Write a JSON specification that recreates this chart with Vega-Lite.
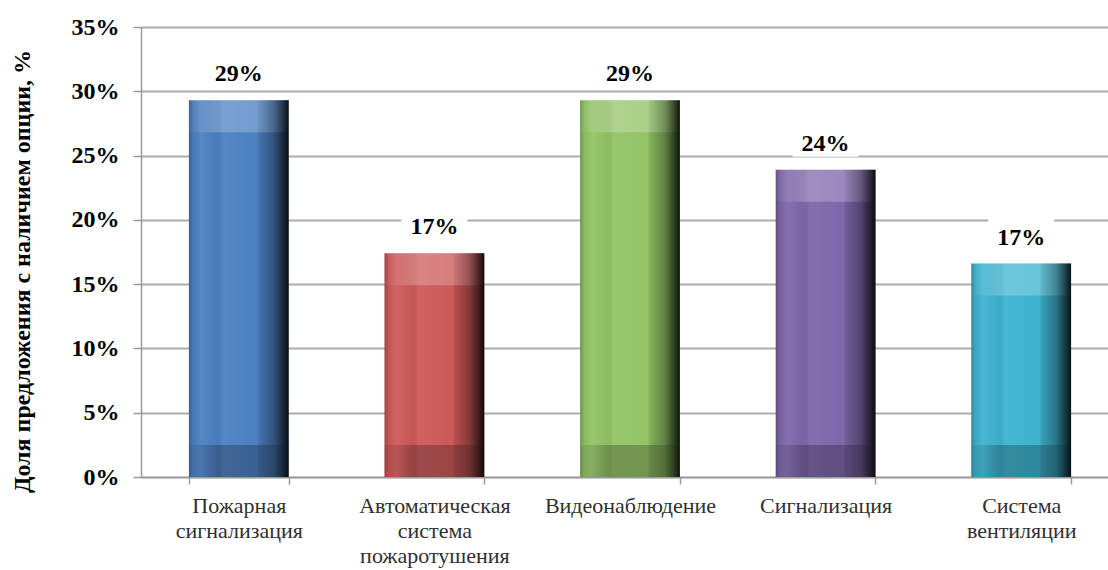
{
  "$schema": "https://vega.github.io/schema/vega-lite/v6.json",
  "autosize": {"type": "none"},
  "width": 978,
  "height": 450,
  "padding": {"left": 141, "top": 27, "right": 0, "bottom": 93},
  "background": "white",
  "config": {
    "view": {"stroke": null},
    "font": "Liberation Serif"
  },
  "data": {
    "values": [
      {"category": "Пожарная сигнализация", "share": 0.293},
      {"category": "Автоматическая система пожаротушения", "share": 0.174},
      {"category": "Видеонаблюдение", "share": 0.293},
      {"category": "Сигнализация", "share": 0.239},
      {"category": "Система вентиляции", "share": 0.166}
    ]
  },
  "encoding": {
    "x": {
      "field": "category",
      "type": "nominal",
      "sort": null,
      "scale": {"paddingInner": 0.49, "paddingOuter": 0.245},
      "axis": {
        "title": null,
        "labelAngle": 0,
        "labelExpr": "split(datum.label, ' ')",
        "labelFont": "Liberation Serif",
        "labelFontSize": 22,
        "labelColor": "#303030",
        "labelLineHeight": 25,
        "labelBaseline": "top",
        "labelPadding": 11,
        "tickBand": "extent",
        "tickSize": 7,
        "tickColor": "#9a9a9a",
        "tickWidth": 1.5,
        "domainColor": "#9a9a9a",
        "domainWidth": 1.5,
        "grid": false
      }
    }
  },
  "layer": [
    {
      "mark": {"type": "bar"},
      "encoding": {
        "y": {
          "field": "share",
          "type": "quantitative",
          "scale": {"domain": [0, 0.35], "nice": false},
          "axis": {
            "title": "Доля предложения с наличием опции, %",
            "titleFont": "Liberation Serif",
            "titleFontSize": 24,
            "titleFontWeight": "bold",
            "titleColor": "#000000",
            "titleX": -119,
            "titleY": 244,
            "titleAngle": -90,
            "titleAlign": "center",
            "titleBaseline": "middle",
            "values": [0, 0.05, 0.1, 0.15, 0.2, 0.25, 0.3, 0.35],
            "format": ".0%",
            "labelFont": "Liberation Serif",
            "labelFontSize": 24,
            "labelFontWeight": "bold",
            "labelColor": "#000000",
            "labelPadding": 14,
            "tickSize": 8,
            "tickColor": "#9a9a9a",
            "tickWidth": 1.5,
            "domainColor": "#9a9a9a",
            "domainWidth": 1.5,
            "gridColor": "#ababab",
            "gridWidth": 1.8
          }
        },
        "color": {
          "field": "category",
          "type": "nominal",
          "sort": null,
          "legend": null,
          "scale": {
            "domain": [
              "Пожарная сигнализация",
              "Автоматическая система пожаротушения",
              "Видеонаблюдение",
              "Сигнализация",
              "Система вентиляции"
            ],
            "range": ["#4c80c2", "#cd5959", "#92c466", "#7f67ab", "#3db3cf"]
          }
        }
      }
    },
    {
      "mark": {
        "type": "bar",
        "color": {
          "gradient": "linear",
          "x1": 0, "x2": 1, "y1": 0, "y2": 0,
          "stops": [
            {"offset": 0, "color": "rgba(0,0,0,0.25)"},
            {"offset": 0.04, "color": "rgba(0,0,0,0.06)"},
            {"offset": 0.12, "color": "rgba(255,255,255,0.06)"},
            {"offset": 0.3, "color": "rgba(0,0,0,0.04)"},
            {"offset": 0.34, "color": "rgba(255,255,255,0.05)"},
            {"offset": 0.66, "color": "rgba(255,255,255,0.0)"},
            {"offset": 0.7, "color": "rgba(0,0,0,0.1)"},
            {"offset": 0.85, "color": "rgba(0,0,0,0.35)"},
            {"offset": 0.95, "color": "rgba(0,0,0,0.7)"},
            {"offset": 1, "color": "rgba(0,0,0,0.9)"}
          ]
        }
      },
      "encoding": {
        "y": {"field": "share", "type": "quantitative"}
      }
    },
    {
      "mark": {
        "type": "bar",
        "y2Offset": 32,
        "color": {
          "gradient": "linear",
          "x1": 0, "x2": 1, "y1": 0, "y2": 0,
          "stops": [
            {"offset": 0, "color": "rgba(255,255,255,0.02)"},
            {"offset": 0.3, "color": "rgba(255,255,255,0.22)"},
            {"offset": 0.7, "color": "rgba(255,255,255,0.22)"},
            {"offset": 1, "color": "rgba(255,255,255,0.0)"}
          ]
        }
      },
      "encoding": {
        "y": {"field": "share", "type": "quantitative"},
        "y2": {"field": "share"}
      }
    },
    {
      "mark": {
        "type": "bar",
        "yOffset": -32,
        "color": {
          "gradient": "linear",
          "x1": 0, "x2": 1, "y1": 0, "y2": 0,
          "stops": [
            {"offset": 0, "color": "rgba(0,0,0,0.05)"},
            {"offset": 0.3, "color": "rgba(0,0,0,0.24)"},
            {"offset": 0.7, "color": "rgba(0,0,0,0.24)"},
            {"offset": 1, "color": "rgba(0,0,0,0.05)"}
          ]
        }
      },
      "encoding": {
        "y": {"datum": 0, "type": "quantitative"},
        "y2": {"datum": 0}
      }
    },
    {
      "mark": {
        "type": "bar",
        "color": "white",
        "width": 66,
        "yOffset": -48,
        "y2Offset": -13
      },
      "encoding": {
        "y": {"field": "share", "type": "quantitative"},
        "y2": {"field": "share"}
      }
    },
    {
      "mark": {
        "type": "text",
        "font": "Liberation Serif",
        "fontSize": 24,
        "fontWeight": "bold",
        "color": "#000000",
        "baseline": "middle",
        "dy": -26
      },
      "encoding": {
        "y": {"field": "share", "type": "quantitative"},
        "text": {"field": "share", "type": "quantitative", "format": ".0%"}
      }
    }
  ]
}
